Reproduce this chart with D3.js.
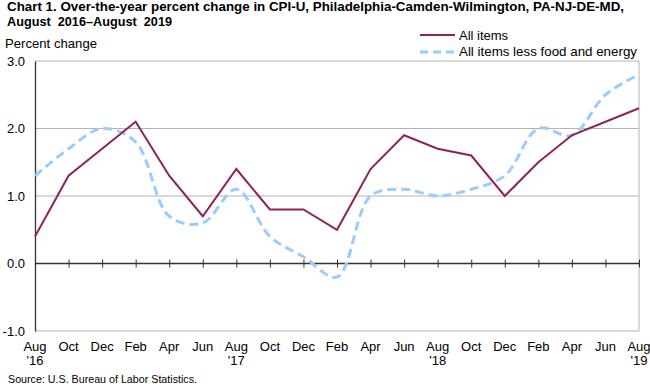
<html>
<head>
  <title>CPI-U Philadelphia</title>
  <script type="text/javascript" src="https://cdn.jsdelivr.net/npm/d3@7"></script>
  <style>
    body { margin: 0; background: #fff; }
    text { font-family: "Liberation Sans", Arial, sans-serif; fill: #000; }
  </style>
</head>
<body>
  <script type="text/javascript">
    // Data (bi-monthly, Aug 2016 - Aug 2019)
    const months = ["Aug", "Oct", "Dec", "Feb", "Apr", "Jun", "Aug", "Oct", "Dec", "Feb",
                    "Apr", "Jun", "Aug", "Oct", "Dec", "Feb", "Apr", "Jun", "Aug"];
    const years = ["'16", "", "", "", "", "", "'17", "", "", "", "", "", "'18", "", "", "", "", "", "'19"];
    const allItems = [0.4, 1.3, 1.7, 2.1, 1.3, 0.7, 1.4, 0.8, 0.8, 0.5, 1.4, 1.9, 1.7, 1.6, 1.0, 1.5, 1.9, 2.1, 2.3];
    const core = [1.3, 1.7, 2.0, 1.8, 0.7, 0.6, 1.1, 0.4, 0.1, -0.2, 1.0, 1.1, 1.0, 1.1, 1.3, 2.0, 1.9, 2.5, 2.8];
    const yTicks = [-1, 0, 1, 2, 3];
    const yLabels = ["-1.0", "0.0", "1.0", "2.0", "3.0"];

    const w = 650;
    const h = 386;
    const plotLeft = 35, plotRight = 639, plotTop = 61, plotBottom = 331;

    const svg = d3.select("body")
      .append("svg")
      .attr("width", w)
      .attr("height", h);

    const x = d3.scaleLinear().domain([0, months.length - 1]).range([plotLeft, plotRight]);
    const y = d3.scaleLinear().domain([-1, 3]).range([plotBottom, plotTop]);

    // Title
    svg.append("text").attr("x", 7).attr("y", 11)
      .attr("font-size", "13.5px").attr("font-weight", "bold")
      .attr("textLength", 617).attr("lengthAdjust", "spacingAndGlyphs")
      .text("Chart 1. Over-the-year percent change in CPI-U, Philadelphia-Camden-Wilmington, PA-NJ-DE-MD,");
    svg.append("text").attr("x", 7).attr("y", 26)
      .attr("font-size", "13.5px").attr("font-weight", "bold")
      .attr("textLength", 165).attr("lengthAdjust", "spacingAndGlyphs")
      .attr("xml:space", "preserve")
      .text("August  2016\u2013August  2019");

    svg.append("text").attr("x", 5).attr("y", 48)
      .attr("font-size", "13px")
      .attr("textLength", 92).attr("lengthAdjust", "spacingAndGlyphs")
      .text("Percent change");

    // Gridlines
    svg.selectAll("line.grid")
      .data(yTicks.filter(d => d !== 0))
      .enter()
      .append("line")
      .attr("class", "grid")
      .attr("x1", plotLeft).attr("x2", plotRight)
      .attr("y1", d => y(d)).attr("y2", d => y(d))
      .attr("stroke", "#b3b3b3").attr("stroke-width", 1);

    // right border
    svg.append("line")
      .attr("x1", plotRight).attr("x2", plotRight)
      .attr("y1", plotTop).attr("y2", plotBottom)
      .attr("stroke", "#b3b3b3");

    // Y axis
    const yAxis = svg.append("g")
      .attr("transform", "translate(" + plotLeft + ",0)")
      .call(d3.axisLeft(y).tickValues(yTicks).tickSize(0).tickPadding(10)
        .tickFormat((d, i) => yLabels[i]));
    yAxis.select(".domain").attr("stroke", "#333").attr("stroke-width", 1.3);
    yAxis.selectAll("text").attr("font-size", "13px").attr("fill", "#000")
      .attr("font-family", "'Liberation Sans', Arial, sans-serif");

    // zero line with ticks
    const xAxis = svg.append("g")
      .attr("transform", "translate(0," + y(0) + ")")
      .call(d3.axisBottom(x).tickValues(d3.range(months.length)).tickSize(3).tickFormat(""));
    xAxis.select(".domain").attr("stroke", "#333").attr("stroke-width", 1.3)
      .attr("d", "M" + plotLeft + ",0H" + plotRight);
    xAxis.selectAll(".tick line").attr("y1", -4).attr("y2", 4).attr("stroke", "#333");

    // X labels
    svg.selectAll("text.month")
      .data(months)
      .enter()
      .append("text")
      .attr("class", "month")
      .attr("x", (d, i) => x(i))
      .attr("y", 351)
      .attr("text-anchor", "middle")
      .attr("font-size", "13px")
      .text(d => d);
    svg.selectAll("text.year")
      .data(years)
      .enter()
      .append("text")
      .attr("class", "year")
      .attr("x", (d, i) => x(i))
      .attr("y", 365)
      .attr("text-anchor", "middle")
      .attr("font-size", "13px")
      .text(d => d);

    // Lines
    const solid = d3.line().x((d, i) => x(i)).y(d => y(d));
    const smooth = d3.line().x((d, i) => x(i)).y(d => y(d)).curve(d3.curveCatmullRom.alpha(0.5));

    svg.append("path")
      .datum(core)
      .attr("d", smooth)
      .attr("fill", "none")
      .attr("stroke", "#99ccff")
      .attr("stroke-width", 3)
      .attr("stroke-dasharray", "9,5");

    svg.append("path")
      .datum(allItems)
      .attr("d", solid)
      .attr("fill", "none")
      .attr("stroke", "#8e2459")
      .attr("stroke-width", 2);

    // Legend
    svg.append("line").attr("x1", 420).attr("x2", 455).attr("y1", 35).attr("y2", 35)
      .attr("stroke", "#8e2459").attr("stroke-width", 2);
    svg.append("text").attr("x", 459).attr("y", 39.5).attr("font-size", "13px").text("All items");
    svg.append("line").attr("x1", 420).attr("x2", 455).attr("y1", 52).attr("y2", 52)
      .attr("stroke", "#99ccff").attr("stroke-width", 3).attr("stroke-dasharray", "8,5");
    svg.append("text").attr("x", 459).attr("y", 56).attr("font-size", "13px")
      .attr("textLength", 178).attr("lengthAdjust", "spacingAndGlyphs")
      .text("All items less food and energy");

    // Source
    svg.append("text").attr("x", 8).attr("y", 383).attr("font-size", "10.5px")
      .attr("textLength", 189).attr("lengthAdjust", "spacingAndGlyphs")
      .text("Source: U.S. Bureau of Labor Statistics.");
  </script>
</body>
</html>
